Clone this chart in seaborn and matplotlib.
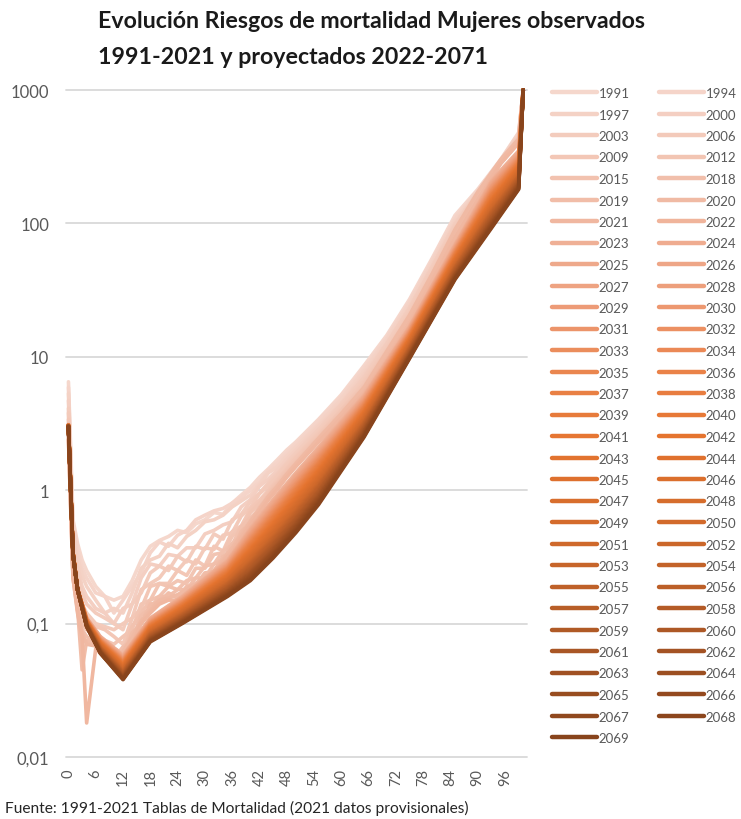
import pandas as pd
import matplotlib
matplotlib.use("Agg")
import matplotlib.pyplot as plt
import seaborn as sns
from matplotlib.colors import LinearSegmentedColormap, to_hex
from matplotlib.lines import Line2D
from matplotlib.ticker import NullLocator

# Riesgos de mortalidad (por mil) de mujeres

# edades de las series observadas y de las proyectadas
edades_obs = [0, 1, 2, 3, 4, 6, 8, 10, 12, 14, 16, 18, 20, 22, 24, 26, 28, 30, 32, 34, 36, 38,
              40, 42, 44, 46, 48, 50, 55, 60, 65, 70, 75, 80, 85, 90, 95, 99, 100]
edades_proy = [0, 1, 2, 4, 7, 12, 18, 25, 35, 40, 45, 50, 55, 65, 75, 85, 93, 99, 100]

anios_obs = [1991, 1994, 1997, 2000, 2003, 2006, 2009, 2012, 2015, 2018, 2019, 2020, 2021]
anios_proy = list(range(2022, 2070))

marcas_x = [0, 6, 12, 18, 24, 30, 36, 42, 48, 54, 60, 66, 72, 78, 84, 90, 96]
marcas_y = [0.01, 0.1, 1, 10, 100, 1000]
etiquetas_y = ["0,01", "0,1", "1", "10", "100", "1000"]

# series observadas (una lista por anio, en el orden de edades_obs)
q_1991 = [6.5, 0.60, 0.40, 0.30, 0.25, 0.19, 0.16, 0.15, 0.16, 0.21, 0.30, 0.38, 0.42, 0.45, 0.50, 0.48, 0.56, 0.60, 0.68, 0.66,
          0.80, 0.92, 1.05, 1.25, 1.45, 1.70, 2.0, 2.3, 3.4, 5.2, 8.6, 14.5, 27, 55, 115, 180, 300, 480, 1000]
q_1994 = [5.9, 0.54, 0.36, 0.26, 0.22, 0.17, 0.16, 0.12, 0.15, 0.19, 0.24, 0.34, 0.41, 0.38, 0.46, 0.50, 0.60, 0.65, 0.70, 0.73,
          0.80, 0.88, 1.0, 1.15, 1.40, 1.60, 1.90, 2.2, 3.3, 5.0, 8.2, 13.9, 26, 53, 110, 176, 296, 470, 1000]
q_1997 = [5.3, 0.49, 0.31, 0.23, 0.19, 0.15, 0.12, 0.13, 0.12, 0.17, 0.26, 0.30, 0.32, 0.40, 0.37, 0.45, 0.50, 0.58, 0.60, 0.65,
          0.75, 0.83, 0.92, 1.1, 1.35, 1.50, 1.80, 2.1, 3.1, 4.8, 7.8, 13.4, 25, 51, 106, 174, 295, 465, 1000]
q_2000 = [4.7, 0.43, 0.27, 0.19, 0.16, 0.13, 0.12, 0.10, 0.13, 0.14, 0.22, 0.28, 0.27, 0.33, 0.32, 0.37, 0.37, 0.47, 0.50, 0.55,
          0.58, 0.75, 0.85, 1.07, 1.22, 1.42, 1.70, 2.0, 3.0, 4.5, 7.4, 12.7, 23.6, 48, 101, 169, 292, 452, 1000]
q_2003 = [4.1, 0.38, 0.23, 0.17, 0.14, 0.12, 0.11, 0.10, 0.09, 0.14, 0.17, 0.24, 0.27, 0.25, 0.32, 0.29, 0.38, 0.36, 0.47, 0.43,
          0.60, 0.66, 0.82, 0.95, 1.14, 1.33, 1.60, 1.9, 2.85, 4.4, 7.0, 12.5, 23, 47, 98, 170, 291, 445, 1000]
q_2006 = [3.8, 0.34, 0.21, 0.14, 0.12, 0.10, 0.095, 0.09, 0.10, 0.11, 0.18, 0.20, 0.22, 0.27, 0.25, 0.30, 0.28, 0.37, 0.36, 0.46,
          0.48, 0.64, 0.74, 0.94, 1.08, 1.28, 1.55, 1.8, 2.7, 4.2, 6.6, 11.7, 21.6, 44, 93, 163, 288, 435, 1000]
q_2009 = [3.4, 0.31, 0.18, 0.13, 0.11, 0.095, 0.09, 0.08, 0.07, 0.11, 0.13, 0.19, 0.20, 0.20, 0.25, 0.23, 0.30, 0.27, 0.38, 0.35,
          0.49, 0.54, 0.72, 0.84, 1.0, 1.2, 1.45, 1.75, 2.6, 4.0, 6.3, 11.2, 20.7, 42, 89, 160, 286, 425, 1000]
q_2012 = [3.1, 0.28, 0.16, 0.11, 0.095, 0.085, 0.075, 0.07, 0.08, 0.09, 0.14, 0.15, 0.20, 0.19, 0.21, 0.20, 0.26, 0.26, 0.33, 0.34,
          0.45, 0.52, 0.68, 0.79, 0.96, 1.15, 1.40, 1.65, 2.5, 3.9, 6.0, 10.8, 20, 41, 86, 157, 284, 418, 1000]
q_2015 = [2.9, 0.26, 0.15, 0.10, 0.09, 0.08, 0.07, 0.065, 0.06, 0.095, 0.12, 0.15, 0.16, 0.19, 0.18, 0.21, 0.22, 0.27, 0.28, 0.35,
          0.39, 0.53, 0.62, 0.72, 0.93, 1.12, 1.35, 1.6, 2.45, 3.75, 5.9, 10.6, 19.6, 40, 85, 157, 284, 415, 1000]
q_2018 = [2.6, 0.24, 0.14, 0.09, 0.08, 0.072, 0.065, 0.055, 0.067, 0.075, 0.115, 0.13, 0.16, 0.16, 0.18, 0.18, 0.22, 0.22, 0.28, 0.30,
          0.40, 0.45, 0.59, 0.74, 0.90, 1.07, 1.3, 1.55, 2.4, 3.6, 5.7, 10.2, 18.7, 38.5, 81, 153, 282, 408, 1000]
q_2019 = [2.5, 0.23, 0.13, 0.045, 0.075, 0.07, 0.055, 0.06, 0.056, 0.085, 0.10, 0.14, 0.145, 0.17, 0.155, 0.19, 0.195, 0.24, 0.245, 0.32,
          0.35, 0.49, 0.57, 0.70, 0.88, 1.05, 1.28, 1.52, 2.35, 3.55, 5.5, 10.0, 18.5, 38, 80, 152, 280, 405, 1000]
q_2020 = [2.4, 0.22, 0.125, 0.085, 0.07, 0.068, 0.06, 0.052, 0.062, 0.078, 0.105, 0.125, 0.15, 0.155, 0.165, 0.18, 0.20, 0.225, 0.25, 0.30,
          0.37, 0.46, 0.58, 0.72, 0.90, 1.08, 1.32, 1.58, 2.45, 3.75, 5.9, 11.0, 20.5, 42, 90, 172, 300, 430, 1000]
q_2021 = [2.4, 0.22, 0.12, 0.08, 0.018, 0.065, 0.055, 0.05, 0.055, 0.07, 0.10, 0.12, 0.14, 0.15, 0.15, 0.17, 0.19, 0.21, 0.24, 0.29,
          0.35, 0.44, 0.55, 0.68, 0.85, 1.02, 1.25, 1.5, 2.3, 3.5, 5.4, 9.8, 18, 37, 78, 150, 280, 400, 1000]

# series proyectadas: una lista por edad, con un valor por anio 2022..2069
q_e0 = [3.10, 3.10, 3.10, 3.09, 3.09, 3.09, 3.09, 3.09, 3.08, 3.08, 3.08, 3.08, 3.07, 3.07, 3.07, 3.07,
        3.07, 3.06, 3.06, 3.06, 3.06, 3.06, 3.05, 3.05, 3.05, 3.05, 3.04, 3.04, 3.04, 3.04, 3.04, 3.03,
        3.03, 3.03, 3.03, 3.03, 3.02, 3.02, 3.02, 3.02, 3.01, 3.01, 3.01, 3.01, 3.01, 3.00, 3.00, 3.00]
q_e1 = [0.34, 0.34, 0.34, 0.34, 0.34, 0.34, 0.34, 0.34, 0.34, 0.34, 0.34, 0.34, 0.34, 0.34, 0.34, 0.34,
        0.34, 0.34, 0.34, 0.34, 0.34, 0.34, 0.34, 0.34, 0.33, 0.33, 0.33, 0.33, 0.33, 0.33, 0.33, 0.33,
        0.33, 0.33, 0.33, 0.33, 0.33, 0.33, 0.33, 0.33, 0.33, 0.33, 0.33, 0.33, 0.33, 0.33, 0.33, 0.33]
q_e2 = [0.18, 0.18, 0.18, 0.18, 0.18, 0.18, 0.18, 0.18, 0.18, 0.18, 0.18, 0.18, 0.18, 0.18, 0.18, 0.18,
        0.18, 0.18, 0.18, 0.18, 0.18, 0.18, 0.18, 0.18, 0.18, 0.18, 0.18, 0.18, 0.18, 0.18, 0.18, 0.18,
        0.18, 0.18, 0.18, 0.18, 0.18, 0.18, 0.18, 0.18, 0.18, 0.18, 0.18, 0.18, 0.18, 0.18, 0.18, 0.18]
q_e4 = [0.110, 0.110, 0.109, 0.109, 0.109, 0.108, 0.108, 0.108, 0.107, 0.107, 0.107, 0.106, 0.106, 0.106, 0.105, 0.105,
        0.105, 0.105, 0.104, 0.104, 0.104, 0.103, 0.103, 0.103, 0.102, 0.102, 0.102, 0.101, 0.101, 0.101, 0.100, 0.100,
        0.100, 0.099, 0.099, 0.099, 0.098, 0.098, 0.098, 0.097, 0.097, 0.097, 0.097, 0.096, 0.096, 0.096, 0.095, 0.095]
q_e7 = [0.0800, 0.0795, 0.0790, 0.0786, 0.0781, 0.0776, 0.0771, 0.0766, 0.0762, 0.0757, 0.0752, 0.0748, 0.0743, 0.0739, 0.0734, 0.0730,
        0.0726, 0.0721, 0.0717, 0.0712, 0.0708, 0.0704, 0.0699, 0.0695, 0.0690, 0.0686, 0.0682, 0.0678, 0.0674, 0.0670, 0.0666, 0.0662,
        0.0658, 0.0654, 0.0650, 0.0646, 0.0642, 0.0638, 0.0634, 0.0630, 0.0626, 0.0622, 0.0618, 0.0615, 0.0611, 0.0607, 0.0603, 0.0600]
q_e12 = [0.0580, 0.0575, 0.0569, 0.0564, 0.0559, 0.0554, 0.0549, 0.0544, 0.0540, 0.0535, 0.0530, 0.0525, 0.0521, 0.0516, 0.0512, 0.0507,
         0.0502, 0.0498, 0.0493, 0.0489, 0.0484, 0.0480, 0.0476, 0.0471, 0.0467, 0.0463, 0.0459, 0.0455, 0.0451, 0.0447, 0.0443, 0.0439,
         0.0435, 0.0431, 0.0427, 0.0423, 0.0419, 0.0415, 0.0412, 0.0408, 0.0404, 0.0401, 0.0397, 0.0394, 0.0390, 0.0387, 0.0383, 0.0380]
q_e18 = [0.1100, 0.1091, 0.1081, 0.1072, 0.1062, 0.1053, 0.1044, 0.1035, 0.1026, 0.1017, 0.1008, 0.0999, 0.0991, 0.0982, 0.0974, 0.0965,
         0.0957, 0.0949, 0.0940, 0.0932, 0.0924, 0.0916, 0.0908, 0.0900, 0.0892, 0.0884, 0.0877, 0.0869, 0.0862, 0.0854, 0.0847, 0.0840,
         0.0832, 0.0825, 0.0817, 0.0810, 0.0803, 0.0796, 0.0790, 0.0783, 0.0776, 0.0769, 0.0763, 0.0756, 0.0750, 0.0743, 0.0737, 0.0730]
q_e25 = [0.1600, 0.1584, 0.1569, 0.1553, 0.1538, 0.1522, 0.1507, 0.1493, 0.1478, 0.1463, 0.1448, 0.1434, 0.1420, 0.1405, 0.1391, 0.1377,
         0.1364, 0.1350, 0.1337, 0.1323, 0.1310, 0.1297, 0.1284, 0.1272, 0.1259, 0.1246, 0.1234, 0.1222, 0.1209, 0.1197, 0.1185, 0.1174,
         0.1162, 0.1151, 0.1139, 0.1128, 0.1117, 0.1106, 0.1095, 0.1084, 0.1073, 0.1062, 0.1052, 0.1041, 0.1031, 0.1020, 0.1010, 0.1000]
q_e35 = [0.3000, 0.2961, 0.2922, 0.2884, 0.2845, 0.2806, 0.2770, 0.2734, 0.2697, 0.2661, 0.2625, 0.2591, 0.2557, 0.2523, 0.2489, 0.2455,
         0.2423, 0.2391, 0.2360, 0.2328, 0.2296, 0.2266, 0.2237, 0.2207, 0.2178, 0.2148, 0.2120, 0.2092, 0.2065, 0.2037, 0.2009, 0.1983,
         0.1957, 0.1931, 0.1905, 0.1879, 0.1855, 0.1831, 0.1806, 0.1782, 0.1758, 0.1735, 0.1712, 0.1690, 0.1667, 0.1644, 0.1622, 0.1600]
q_e40 = [0.520, 0.510, 0.501, 0.491, 0.482, 0.472, 0.464, 0.455, 0.446, 0.438, 0.429, 0.421, 0.413, 0.405, 0.397, 0.389,
         0.382, 0.375, 0.368, 0.361, 0.354, 0.347, 0.341, 0.334, 0.328, 0.321, 0.315, 0.309, 0.304, 0.298, 0.292, 0.286,
         0.281, 0.276, 0.270, 0.265, 0.260, 0.255, 0.250, 0.245, 0.240, 0.236, 0.232, 0.227, 0.223, 0.218, 0.214, 0.210]
q_e45 = [0.850, 0.833, 0.815, 0.798, 0.781, 0.764, 0.748, 0.733, 0.717, 0.702, 0.686, 0.672, 0.658, 0.644, 0.630, 0.616,
         0.604, 0.591, 0.579, 0.566, 0.553, 0.542, 0.531, 0.520, 0.508, 0.497, 0.487, 0.477, 0.467, 0.457, 0.447, 0.437,
         0.428, 0.419, 0.410, 0.401, 0.393, 0.385, 0.377, 0.369, 0.360, 0.353, 0.346, 0.338, 0.331, 0.324, 0.317, 0.310]
q_e50 = [1.35, 1.32, 1.29, 1.27, 1.24, 1.21, 1.19, 1.16, 1.13, 1.11, 1.08, 1.06, 1.04, 1.016, 0.994, 0.971,
         0.951, 0.931, 0.910, 0.890, 0.870, 0.852, 0.834, 0.815, 0.797, 0.779, 0.763, 0.747, 0.730, 0.714, 0.698, 0.683,
         0.669, 0.654, 0.640, 0.625, 0.612, 0.599, 0.586, 0.573, 0.560, 0.548, 0.537, 0.525, 0.514, 0.502, 0.491, 0.480]
q_e55 = [2.10, 2.06, 2.02, 1.97, 1.93, 1.89, 1.85, 1.81, 1.78, 1.74, 1.70, 1.67, 1.63, 1.60, 1.57, 1.53,
         1.50, 1.47, 1.44, 1.41, 1.38, 1.35, 1.32, 1.30, 1.27, 1.24, 1.22, 1.19, 1.17, 1.14, 1.12, 1.09,
         1.07, 1.05, 1.03, 1.00, 0.984, 0.964, 0.944, 0.924, 0.904, 0.886, 0.868, 0.850, 0.832, 0.814, 0.797, 0.780]
q_e65 = [5.20, 5.12, 5.04, 4.97, 4.89, 4.81, 4.74, 4.67, 4.60, 4.52, 4.45, 4.38, 4.32, 4.25, 4.18, 4.12,
         4.06, 4.00, 3.93, 3.87, 3.81, 3.75, 3.70, 3.64, 3.58, 3.52, 3.47, 3.42, 3.37, 3.31, 3.26, 3.21,
         3.16, 3.11, 3.06, 3.02, 2.97, 2.93, 2.88, 2.84, 2.79, 2.75, 2.71, 2.66, 2.62, 2.58, 2.54, 2.50]
q_e75 = [17.0, 16.8, 16.6, 16.4, 16.2, 16.0, 15.8, 15.6, 15.5, 15.3, 15.1, 14.9, 14.7, 14.6, 14.4, 14.2,
         14.0, 13.9, 13.7, 13.6, 13.4, 13.2, 13.1, 12.9, 12.8, 12.6, 12.5, 12.3, 12.2, 12.0, 11.9, 11.7,
         11.6, 11.5, 11.3, 11.2, 11.1, 10.9, 10.8, 10.7, 10.55, 10.4, 10.3, 10.2, 10.1, 9.93, 9.82, 9.70]
q_e85 = [70.0, 69.1, 68.2, 67.4, 66.5, 65.6, 64.8, 64.0, 63.1, 62.3, 61.5, 60.7, 59.9, 59.2, 58.4, 57.6,
         56.9, 56.2, 55.4, 54.7, 54.0, 53.3, 52.6, 52.0, 51.3, 50.6, 50.0, 49.3, 48.7, 48.0, 47.4, 46.8,
         46.2, 45.6, 45.0, 44.4, 43.8, 43.2, 42.7, 42.1, 41.6, 41.1, 40.6, 40.0, 39.5, 39.0, 38.5, 38.0]
q_e93 = [210, 206, 203, 199, 196, 192, 189, 186, 183, 179, 176, 173, 170, 167, 164, 161,
         159, 156, 153, 150, 148, 145, 143, 140, 138, 135, 133, 131, 129, 126, 124, 122,
         120, 118, 116, 114, 112, 110, 108, 106, 104, 102, 100, 98.8, 97.0, 95.3, 93.6, 92.0]
q_e99 = [350, 345, 340, 336, 331, 326, 322, 317, 313, 308, 304, 300, 296, 291, 287, 283,
         279, 275, 272, 268, 264, 260, 257, 253, 250, 246, 243, 239, 236, 232, 229, 226,
         223, 219, 216, 213, 210, 207, 205, 202, 199, 196, 193, 190, 188, 185, 182, 180]
q_e100 = [1000, 1000, 1000, 1000, 1000, 1000, 1000, 1000, 1000, 1000, 1000, 1000, 1000, 1000, 1000, 1000,
          1000, 1000, 1000, 1000, 1000, 1000, 1000, 1000, 1000, 1000, 1000, 1000, 1000, 1000, 1000, 1000,
          1000, 1000, 1000, 1000, 1000, 1000, 1000, 1000, 1000, 1000, 1000, 1000, 1000, 1000, 1000, 1000]

series_obs = [q_1991, q_1994, q_1997, q_2000, q_2003, q_2006, q_2009, q_2012, q_2015,
              q_2018, q_2019, q_2020, q_2021]
columnas_proy = [q_e0, q_e1, q_e2, q_e4, q_e7, q_e12, q_e18, q_e25, q_e35, q_e40, q_e45,
                 q_e50, q_e55, q_e65, q_e75, q_e85, q_e93, q_e99, q_e100]

# tabla larga para seaborn
filas = []
for anio, serie in zip(anios_obs, series_obs):
    assert len(serie) == len(edades_obs), anio
    for edad, q in zip(edades_obs, serie):
        filas.append((str(anio), edad, q))
assert len(columnas_proy) == len(edades_proy)
for col in columnas_proy:
    assert len(col) == len(anios_proy)
for i, anio in enumerate(anios_proy):
    for edad, col in zip(edades_proy, columnas_proy):
        filas.append((str(anio), edad, col[i]))
df = pd.DataFrame(filas, columns=["anio", "edad", "q"])

anios = anios_obs + anios_proy
etiquetas = [str(a) for a in anios]

# degradado de color: salmon claro -> naranja -> marron
cmap = LinearSegmentedColormap.from_list("mortalidad", [
    (0.0, "#f5d7cc"), (0.2, "#f0b7a0"), (0.33, "#ed9c78"), (0.45, "#ea8248"),
    (0.55, "#e5742f"), (0.7, "#cf692b"), (0.85, "#ad5826"), (1.0, "#88441c")])
paleta = [to_hex(cmap(i / (len(anios) - 1))) for i in range(len(anios))]

sns.set_theme(style="white")
plt.rcParams["font.family"] = ["Lato", "DejaVu Sans"]

fig = plt.figure(figsize=(7.41, 8.20), dpi=100)
ax = fig.add_axes([0.089, 0.0756, 0.622, 0.8134])

sns.lineplot(data=df, x="edad", y="q", hue="anio", hue_order=etiquetas, palette=paleta,
             linewidth=2.6, legend=False, estimator=None, ax=ax,
             solid_capstyle="round", solid_joinstyle="round")

ax.set_yscale("log")
ax.set_ylim(0.01, 1000)
ax.set_xlim(-0.55, 100.8)
ax.set_yticks(marcas_y)
ax.set_yticklabels(etiquetas_y)
ax.yaxis.set_minor_locator(NullLocator())
ax.set_xticks(marcas_x)
ax.set_xticklabels([str(m) for m in marcas_x])
ax.tick_params(axis="x", rotation=90, length=0, labelsize=10.5, labelcolor="#595959", pad=8)
ax.tick_params(axis="y", length=0, labelsize=12, labelcolor="#595959", pad=12)
ax.grid(axis="y", color="#d9d9d9", linewidth=1.3)
ax.grid(axis="x", visible=False)
ax.set_axisbelow(True)
for gl in ax.get_ygridlines():
    gl.set_clip_on(False)
for ln in ax.lines:
    ln.set_clip_on(False)
for s in ax.spines.values():
    s.set_visible(False)
ax.set_xlabel("")
ax.set_ylabel("")

# leyenda en dos columnas, ordenada por filas
manejadores = [Line2D([0], [0], color=c, lw=3.2, solid_capstyle="round") for c in paleta]
orden = list(range(0, len(anios), 2)) + list(range(1, len(anios), 2))
fig.legend([manejadores[i] for i in orden], [etiquetas[i] for i in orden], ncol=2,
           loc="upper left", bbox_to_anchor=(552 / 741, 1 - 88 / 820), frameon=False,
           fontsize=9.5, handlelength=3.4, handletextpad=0.15, columnspacing=2.2,
           labelspacing=0.72, borderpad=0, borderaxespad=0, labelcolor="#595959")

fig.text(98 / 741, 1 - 21 / 820, "Evolución Riesgos de mortalidad Mujeres observados",
         ha="left", va="center", fontsize=16.7, fontweight="bold", color="#1a1a1a")
fig.text(98 / 741, 1 - 57 / 820, "1991-2021 y proyectados 2022-2071",
         ha="left", va="center", fontsize=16.7, fontweight="bold", color="#1a1a1a")
fig.text(5 / 741, 1 - 808 / 820,
         "Fuente: 1991-2021 Tablas de Mortalidad (2021 datos provisionales)",
         ha="left", va="center", fontsize=11.2, color="#262626")

fig.savefig("out.png", dpi=100)
